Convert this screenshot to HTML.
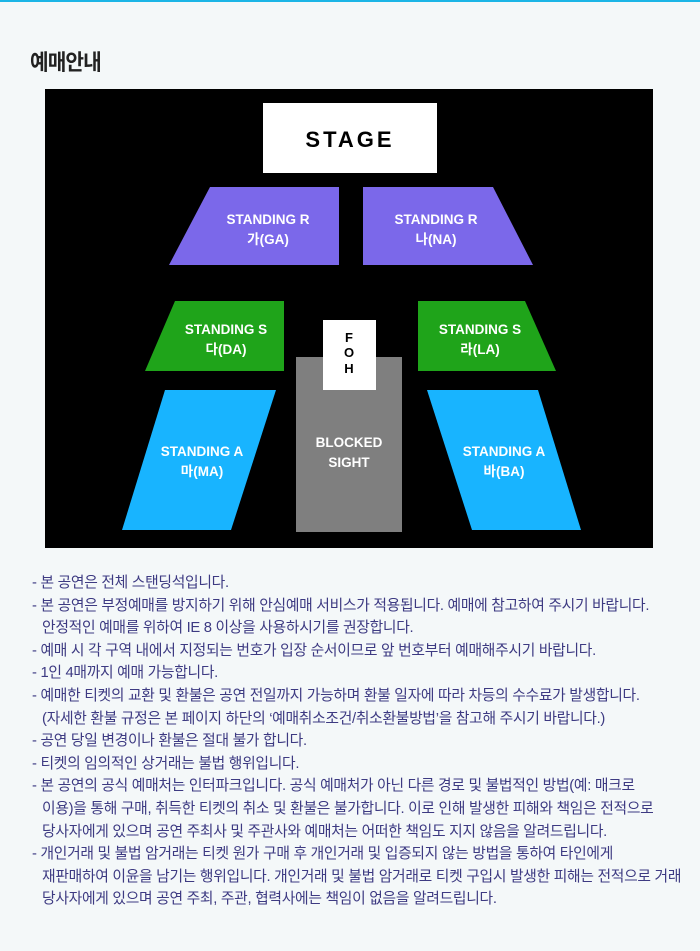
<!DOCTYPE html>
<html><head><meta charset="utf-8"><style>
html,body{margin:0;padding:0;}
body{width:700px;height:951px;background:#f4f8f9;position:relative;overflow:hidden;font-family:"Liberation Sans","Noto Sans CJK KR",sans-serif;}
.top{position:absolute;left:0;top:0;width:700px;height:2px;background:#1bb5e6;}
h1{position:absolute;left:30px;top:45px;margin:0;font-size:22px;font-weight:bold;color:#222;letter-spacing:-1px;transform:scaleX(0.92);transform-origin:0 0;}
svg{position:absolute;left:0;top:0;}
.t{position:absolute;left:32px;top:572px;font-size:14.8px;line-height:22.6px;color:#3d3a82;letter-spacing:-0.3px;white-space:nowrap;}
.t div{padding-left:10px;text-indent:-10px;}
</style></head><body>
<div class="top"></div>
<h1>예매안내</h1>
<svg width="700" height="951" font-family="Liberation Sans, Noto Sans CJK KR, sans-serif" font-weight="bold">
<rect x="45" y="89" width="608" height="459" fill="#000"/>
<rect x="263" y="103" width="174" height="70" fill="#fff"/>
<text x="350" y="147" text-anchor="middle" font-size="22" letter-spacing="3" fill="#000">STAGE</text>
<polygon points="210,187 339,187 339,265 169,265" fill="#7b68ea"/>
<polygon points="363,187 493,187 533,265 363,265" fill="#7b68ea"/>
<polygon points="175,301 284,301 284,371 145,371" fill="#1fa41a"/>
<polygon points="418,301 525,301 556,371 418,371" fill="#1fa41a"/>
<polygon points="165,390 276,390 231,530 122,530" fill="#18b4ff"/>
<polygon points="427,390 538,390 581,530 472,530" fill="#18b4ff"/>
<rect x="296" y="357" width="106" height="175" fill="#7f7f7f"/>
<rect x="323" y="320" width="53" height="70" fill="#fff"/>
<g fill="#000" font-size="13" text-anchor="middle"><text x="349" y="342">F</text><text x="349" y="357">O</text><text x="349" y="373">H</text></g>
<g fill="#fff" font-size="13.5" text-anchor="middle">
<text x="268" y="224">STANDING R</text><text x="268" y="244">가(GA)</text>
<text x="436" y="224">STANDING R</text><text x="436" y="244">나(NA)</text>
<text x="226" y="334">STANDING S</text><text x="226" y="354">다(DA)</text>
<text x="480" y="334">STANDING S</text><text x="480" y="354">라(LA)</text>
<text x="202" y="456">STANDING A</text><text x="202" y="476">마(MA)</text>
<text x="504" y="456">STANDING A</text><text x="504" y="476">바(BA)</text>
<text x="349" y="447">BLOCKED</text><text x="349" y="467">SIGHT</text>
</g>
</svg>
<div class="t">
<div>- 본 공연은 전체 스탠딩석입니다.</div>
<div>- 본 공연은 부정예매를 방지하기 위해 안심예매 서비스가 적용됩니다. 예매에 참고하여 주시기 바랍니다.<br>안정적인 예매를 위하여 IE 8 이상을 사용하시기를 권장합니다.</div>
<div>- 예매 시 각 구역 내에서 지정되는 번호가 입장 순서이므로 앞 번호부터 예매해주시기 바랍니다.</div>
<div>- 1인 4매까지 예매 가능합니다.</div>
<div>- 예매한 티켓의 교환 및 환불은 공연 전일까지 가능하며 환불 일자에 따라 차등의 수수료가 발생합니다.<br>(자세한 환불 규정은 본 페이지 하단의 ‘예매취소조건/취소환불방법’을 참고해 주시기 바랍니다.)</div>
<div>- 공연 당일 변경이나 환불은 절대 불가 합니다.</div>
<div>- 티켓의 임의적인 상거래는 불법 행위입니다.</div>
<div>- 본 공연의 공식 예매처는 인터파크입니다. 공식 예매처가 아닌 다른 경로 및 불법적인 방법(예: 매크로<br>이용)을 통해 구매, 취득한 티켓의 취소 및 환불은 불가합니다. 이로 인해 발생한 피해와 책임은 전적으로<br>당사자에게 있으며 공연 주최사 및 주관사와 예매처는 어떠한 책임도 지지 않음을 알려드립니다.</div>
<div>- 개인거래 및 불법 암거래는 티켓 원가 구매 후 개인거래 및 입증되지 않는 방법을 통하여 타인에게<br>재판매하여 이윤을 남기는 행위입니다. 개인거래 및 불법 암거래로 티켓 구입시 발생한 피해는 전적으로 거래<br>당사자에게 있으며 공연 주최, 주관, 협력사에는 책임이 없음을 알려드립니다.</div>
</div>
</body></html>
